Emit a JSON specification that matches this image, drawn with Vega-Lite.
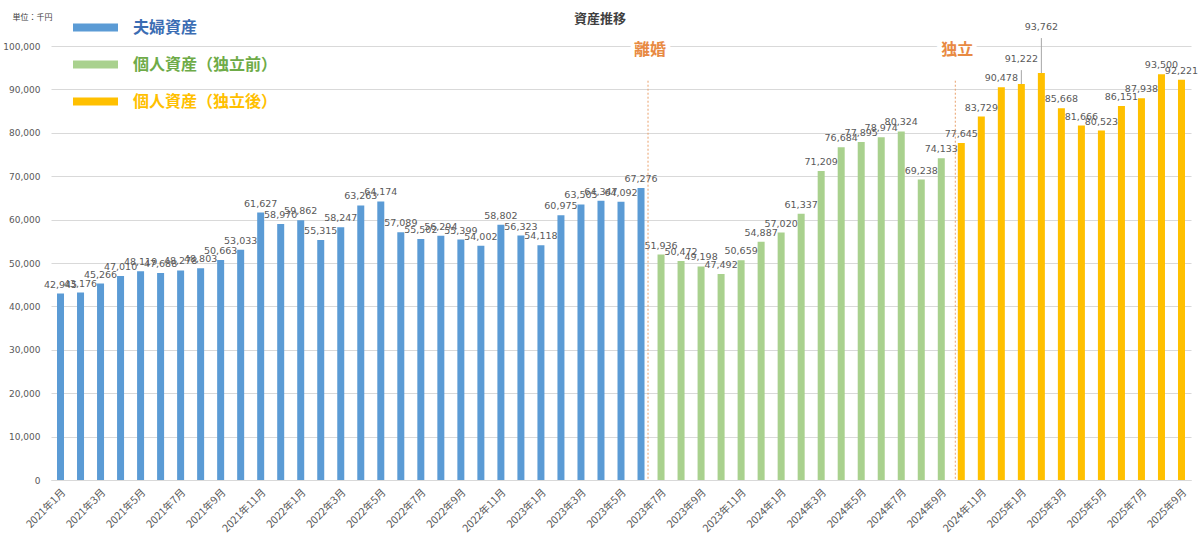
{
  "$schema": "https://vega.github.io/schema/vega-lite/v6.json",
  "width": 1140,
  "height": 434,
  "autosize": {"type": "none"},
  "padding": {"left": 51, "top": 46, "right": 9, "bottom": 59},
  "background": "white",
  "title": {
    "text": "資産推移",
    "fontSize": 13,
    "fontWeight": "bold",
    "color": "#404040",
    "font": "Noto Sans CJK JP",
    "anchor": "middle",
    "frame": "group",
    "baseline": "bottom",
    "offset": 0,
    "dy": 30,
    "dx": -21
  },
  "data": {
    "values": [
      {"month": "2021年1月", "series": "夫婦資産", "value": 42945},
      {"month": "2021年2月", "series": "夫婦資産", "value": 43176},
      {"month": "2021年3月", "series": "夫婦資産", "value": 45266},
      {"month": "2021年4月", "series": "夫婦資産", "value": 47010},
      {"month": "2021年5月", "series": "夫婦資産", "value": 48119},
      {"month": "2021年6月", "series": "夫婦資産", "value": 47688},
      {"month": "2021年7月", "series": "夫婦資産", "value": 48278},
      {"month": "2021年8月", "series": "夫婦資産", "value": 48803},
      {"month": "2021年9月", "series": "夫婦資産", "value": 50663},
      {"month": "2021年10月", "series": "夫婦資産", "value": 53033},
      {"month": "2021年11月", "series": "夫婦資産", "value": 61627},
      {"month": "2021年12月", "series": "夫婦資産", "value": 58970},
      {"month": "2022年1月", "series": "夫婦資産", "value": 59862},
      {"month": "2022年2月", "series": "夫婦資産", "value": 55315},
      {"month": "2022年3月", "series": "夫婦資産", "value": 58247},
      {"month": "2022年4月", "series": "夫婦資産", "value": 63263},
      {"month": "2022年5月", "series": "夫婦資産", "value": 64174},
      {"month": "2022年6月", "series": "夫婦資産", "value": 57089},
      {"month": "2022年7月", "series": "夫婦資産", "value": 55502},
      {"month": "2022年8月", "series": "夫婦資産", "value": 56294},
      {"month": "2022年9月", "series": "夫婦資産", "value": 55399},
      {"month": "2022年10月", "series": "夫婦資産", "value": 54002},
      {"month": "2022年11月", "series": "夫婦資産", "value": 58802},
      {"month": "2022年12月", "series": "夫婦資産", "value": 56323},
      {"month": "2023年1月", "series": "夫婦資産", "value": 54118},
      {"month": "2023年2月", "series": "夫婦資産", "value": 60975},
      {"month": "2023年3月", "series": "夫婦資産", "value": 63505},
      {"month": "2023年4月", "series": "夫婦資産", "value": 64347},
      {"month": "2023年5月", "series": "夫婦資産", "value": 64092},
      {"month": "2023年6月", "series": "夫婦資産", "value": 67276, "event": "離婚"},
      {"month": "2023年7月", "series": "個人資産（独立前）", "value": 51936},
      {"month": "2023年8月", "series": "個人資産（独立前）", "value": 50472},
      {"month": "2023年9月", "series": "個人資産（独立前）", "value": 49198},
      {"month": "2023年10月", "series": "個人資産（独立前）", "value": 47492},
      {"month": "2023年11月", "series": "個人資産（独立前）", "value": 50659},
      {"month": "2023年12月", "series": "個人資産（独立前）", "value": 54887},
      {"month": "2024年1月", "series": "個人資産（独立前）", "value": 57020},
      {"month": "2024年2月", "series": "個人資産（独立前）", "value": 61337},
      {"month": "2024年3月", "series": "個人資産（独立前）", "value": 71209},
      {"month": "2024年4月", "series": "個人資産（独立前）", "value": 76684},
      {"month": "2024年5月", "series": "個人資産（独立前）", "value": 77895},
      {"month": "2024年6月", "series": "個人資産（独立前）", "value": 78974},
      {"month": "2024年7月", "series": "個人資産（独立前）", "value": 80324},
      {"month": "2024年8月", "series": "個人資産（独立前）", "value": 69238},
      {"month": "2024年9月", "series": "個人資産（独立前）", "value": 74133},
      {"month": "2024年10月", "series": "個人資産（独立後）", "value": 77645, "event": "独立"},
      {"month": "2024年11月", "series": "個人資産（独立後）", "value": 83729},
      {"month": "2024年12月", "series": "個人資産（独立後）", "value": 90478},
      {"month": "2025年1月", "series": "個人資産（独立後）", "value": 91222},
      {"month": "2025年2月", "series": "個人資産（独立後）", "value": 93762},
      {"month": "2025年3月", "series": "個人資産（独立後）", "value": 85668},
      {"month": "2025年4月", "series": "個人資産（独立後）", "value": 81666},
      {"month": "2025年5月", "series": "個人資産（独立後）", "value": 80523},
      {"month": "2025年6月", "series": "個人資産（独立後）", "value": 86151},
      {"month": "2025年7月", "series": "個人資産（独立後）", "value": 87938},
      {"month": "2025年8月", "series": "個人資産（独立後）", "value": 93500},
      {"month": "2025年9月", "series": "個人資産（独立後）", "value": 92221}
    ]
  },
  "encoding": {
    "x": {
      "field": "month",
      "type": "nominal",
      "sort": null,
      "title": null,
      "scale": {"paddingInner": 0.65, "paddingOuter": 0.3},
      "axis": {
        "values": ["2021年1月", "2021年3月", "2021年5月", "2021年7月", "2021年9月", "2021年11月",
                   "2022年1月", "2022年3月", "2022年5月", "2022年7月", "2022年9月", "2022年11月",
                   "2023年1月", "2023年3月", "2023年5月", "2023年7月", "2023年9月", "2023年11月",
                   "2024年1月", "2024年3月", "2024年5月", "2024年7月", "2024年9月", "2024年11月",
                   "2025年1月", "2025年3月", "2025年5月", "2025年7月", "2025年9月"],
        "labelAngle": -45,
        "labelFontSize": 10.5,
        "labelFont": "Noto Sans CJK JP",
        "labelColor": "#595959",
        "labelPadding": 7,
        "labelOverlap": false,
        "ticks": false,
        "domainColor": "#D9D9D9",
        "grid": false
      }
    },
    "y": {
      "field": "value",
      "type": "quantitative",
      "title": "単位：千円",
      "scale": {"domain": [0, 100000], "nice": false},
      "axis": {
        "values": [0, 10000, 20000, 30000, 40000, 50000, 60000, 70000, 80000, 90000, 100000],
        "labelExpr": "format(datum.value, ',')",
        "grid": true,
        "gridColor": "#D9D9D9",
        "domain": false,
        "ticks": false,
        "labelPadding": 11,
        "labelFontSize": 9,
        "labelFont": "DejaVu Sans",
        "labelColor": "#595959",
        "titleAngle": 0,
        "titleAlign": "left",
        "titleBaseline": "middle",
        "titleX": -39,
        "titleY": -29,
        "titleFontSize": 8,
        "titleFontWeight": "normal",
        "titleColor": "#404040",
        "titleFont": "Noto Sans CJK JP"
      }
    }
  },
  "layer": [
    {
      "mark": {"type": "bar"},
      "encoding": {
        "color": {
          "field": "series",
          "type": "nominal",
          "scale": {
            "domain": ["夫婦資産", "個人資産（独立前）", "個人資産（独立後）"],
            "range": ["#5B9BD5", "#A9D18E", "#FFC000"]
          },
          "legend": {
            "title": null,
            "orient": "none",
            "legendX": 22,
            "legendY": -37,
            "padding": 0,
            "symbolType": "M-1,-0.18H1V0.18H-1Z",
            "symbolSize": 2025,
            "symbolStrokeWidth": 0,
            "labelFontSize": 16,
            "labelFont": "Noto Sans CJK JP",
            "labelFontWeight": "bold",
            "labelOffset": 15,
            "labelLimit": 300,
            "rowPadding": 0,
            "clipHeight": 37,
            "encode": {
              "symbols": {"update": {"fill": {"signal": "datum.value === '夫婦資産' ? '#8FAADC' : datum.value === '個人資産（独立前）' ? '#A9D18E' : '#FFC000'"}}},
              "labels": {"update": {"fill": {"signal": "datum.value === '夫婦資産' ? '#3B6DB3' : datum.value === '個人資産（独立前）' ? '#6EAB48' : '#FFC000'"}}}
            }
          }
        }
      }
    },
    {
      "transform": [{"filter": "datum.month !== '2025年1月' && datum.month !== '2025年2月'"}],
      "mark": {"type": "text", "baseline": "bottom", "dy": -4, "fontSize": 9.5, "font": "DejaVu Sans", "color": "#595959"},
      "encoding": {"text": {"field": "value", "type": "quantitative", "format": ","}}
    },
    {
      "transform": [{"filter": "datum.month === '2025年1月'"}],
      "layer": [
        {
          "mark": {"type": "rule", "color": "#A6A6A6", "strokeWidth": 1, "y2Offset": -14},
          "encoding": {"y2": {"field": "value"}}
        },
        {
          "mark": {"type": "text", "baseline": "bottom", "dy": -20, "fontSize": 9.5, "font": "DejaVu Sans", "color": "#595959"},
          "encoding": {"text": {"field": "value", "type": "quantitative", "format": ","}}
        }
      ]
    },
    {
      "transform": [{"filter": "datum.month === '2025年2月'"}],
      "layer": [
        {
          "mark": {"type": "rule", "color": "#A6A6A6", "strokeWidth": 1, "y2Offset": -35},
          "encoding": {"y2": {"field": "value"}}
        },
        {
          "mark": {"type": "text", "baseline": "bottom", "dy": -41, "fontSize": 9.5, "font": "DejaVu Sans", "color": "#595959"},
          "encoding": {"text": {"field": "value", "type": "quantitative", "format": ","}}
        }
      ]
    },
    {
      "transform": [{"filter": "datum.event === '離婚'"}],
      "layer": [
        {
          "mark": {"type": "rule", "strokeDash": [2, 2], "color": "#E9A06B", "strokeWidth": 1, "xOffset": 7},
          "encoding": {"y": {"datum": 92000, "type": "quantitative", "axis": {"labelExpr": "format(datum.value, ',')"}}, "y2": {"datum": 0}}
        },
        {
          "mark": {"type": "text", "fontSize": 16, "font": "Noto Sans CJK JP", "fontWeight": "bold", "baseline": "middle", "xOffset": 9, "stroke": "white", "strokeWidth": 9, "strokeJoin": "round", "fill": "white"},
          "encoding": {"y": {"datum": 99000, "type": "quantitative", "axis": {"labelExpr": "format(datum.value, ',')"}}, "text": {"field": "event"}}
        },
        {
          "mark": {"type": "text", "fontSize": 16, "font": "Noto Sans CJK JP", "fontWeight": "bold", "baseline": "middle", "xOffset": 9, "color": "#E88A43"},
          "encoding": {"y": {"datum": 99000, "type": "quantitative", "axis": {"labelExpr": "format(datum.value, ',')"}}, "text": {"field": "event"}}
        }
      ]
    },
    {
      "transform": [{"filter": "datum.event === '独立'"}],
      "layer": [
        {
          "mark": {"type": "rule", "strokeDash": [2, 2], "color": "#E9A06B", "strokeWidth": 1, "xOffset": -6},
          "encoding": {"y": {"datum": 92000, "type": "quantitative", "axis": {"labelExpr": "format(datum.value, ',')"}}, "y2": {"datum": 0}}
        },
        {
          "mark": {"type": "text", "fontSize": 16, "font": "Noto Sans CJK JP", "fontWeight": "bold", "baseline": "middle", "xOffset": -4, "stroke": "white", "strokeWidth": 9, "strokeJoin": "round", "fill": "white"},
          "encoding": {"y": {"datum": 99000, "type": "quantitative", "axis": {"labelExpr": "format(datum.value, ',')"}}, "text": {"field": "event"}}
        },
        {
          "mark": {"type": "text", "fontSize": 16, "font": "Noto Sans CJK JP", "fontWeight": "bold", "baseline": "middle", "xOffset": -4, "color": "#E88A43"},
          "encoding": {"y": {"datum": 99000, "type": "quantitative", "axis": {"labelExpr": "format(datum.value, ',')"}}, "text": {"field": "event"}}
        }
      ]
    }
  ],
  "config": {
    "view": {"stroke": null}
  }
}
